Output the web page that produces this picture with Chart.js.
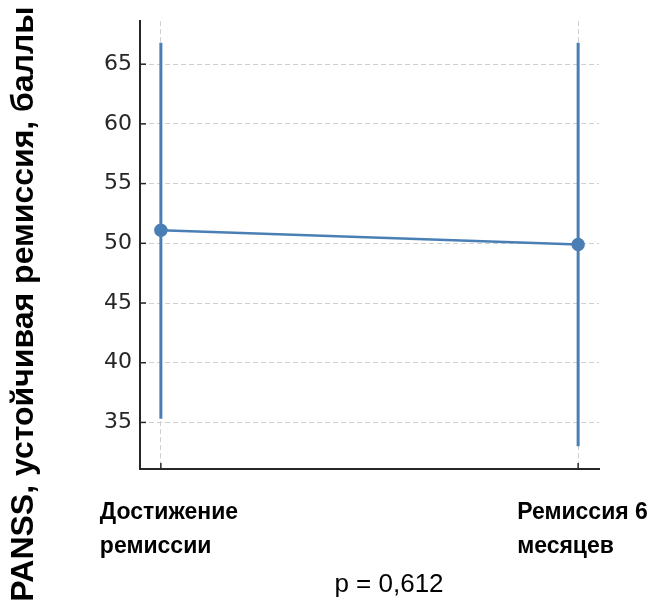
<!DOCTYPE html>
<html>
<head>
<meta charset="utf-8">
<script src="https://cdn.jsdelivr.net/npm/chart.js@4"></script>
<style>
  html, body { margin: 0; padding: 0; background: #fff; }
  #wrap { width: 654px; height: 602px; }
</style>
</head>
<body>
<div id="wrap"><canvas id="panss-chart" width="654" height="602"></canvas></div>
<script>
const categories = [['Достижение', 'ремиссии'], ['Ремиссия 6', 'месяцев']];
const means = [51.1, 49.9];
const lowerBars = [35.3, 33.0];
const upperBars = [66.8, 66.8];
const yTicks = [35, 40, 45, 50, 55, 60, 65];
const yTitle = 'PANSS, устойчивая ремиссия, баллы';
const pText = 'p = 0,612';

const lineColor = '#4a7fb5';
const axisColor = '#262626';

// error bars, inner ticks, category labels and titles, all placed through the scales
const extras = {
    id: 'extras',
    beforeDatasetsDraw(chart) {
        const ctx = chart.ctx;
        const x = chart.scales.x, y = chart.scales.y;
        const area = chart.chartArea;
        ctx.save();
        // small inward tick marks
        ctx.strokeStyle = axisColor;
        ctx.lineWidth = 1.5;
        yTicks.forEach(v => {
            const py = y.getPixelForValue(v);
            ctx.beginPath();
            ctx.moveTo(area.left, py);
            ctx.lineTo(area.left + 6, py);
            ctx.stroke();
        });
        categories.forEach((c, i) => {
            const px = x.getPixelForValue(i);
            ctx.beginPath();
            ctx.moveTo(px, area.bottom);
            ctx.lineTo(px, area.bottom - 6);
            ctx.stroke();
        });
        // error bars
        ctx.strokeStyle = lineColor;
        ctx.lineWidth = 3;
        means.forEach((m, i) => {
            const px = x.getPixelForValue(i);
            ctx.beginPath();
            ctx.moveTo(px, y.getPixelForValue(lowerBars[i]));
            ctx.lineTo(px, y.getPixelForValue(upperBars[i]));
            ctx.stroke();
        });
        ctx.restore();
    },
    afterDraw(chart) {
        const ctx = chart.ctx;
        const x = chart.scales.x;
        const area = chart.chartArea;
        ctx.save();
        ctx.fillStyle = '#000';
        ctx.font = 'bold 23px "Liberation Sans", Arial, sans-serif';
        ctx.textAlign = 'left';
        ctx.textBaseline = 'middle';
        categories.forEach((lines, i) => {
            const px = x.getPixelForValue(i) - 61;
            lines.forEach((t, j) => {
                ctx.fillText(t, px, area.bottom + 44 + j * 34);
            });
        });
        ctx.font = '26px "Liberation Sans", Arial, sans-serif';
        ctx.textAlign = 'center';
        ctx.fillText(pText, 389, 585);
        ctx.translate(24, 304);
        ctx.rotate(-Math.PI / 2);
        ctx.font = 'bold 32px "Liberation Sans", Arial, sans-serif';
        ctx.fillText(yTitle, 0, 0);
        ctx.restore();
    }
};

new Chart(document.getElementById('panss-chart'), {
    type: 'line',
    data: {
        datasets: [{
            data: means.map((v, i) => ({ x: i, y: v })),
            borderColor: lineColor,
            backgroundColor: lineColor,
            pointBackgroundColor: lineColor,
            pointBorderColor: lineColor,
            borderWidth: 2.5,
            pointRadius: 5.5,
            tension: 0
        }]
    },
    options: {
        responsive: false,
        animation: false,
        layout: {
            padding: { left: 0, top: 18, right: 55, bottom: 133 }
        },
        plugins: {
            legend: { display: false },
            tooltip: { enabled: false }
        },
        scales: {
            x: {
                type: 'linear',
                min: -0.05,
                max: 1.05,
                afterBuildTicks: s => { s.ticks = categories.map((c, i) => ({ value: i })); },
                afterFit: s => { s.height = 0; },
                ticks: { display: false },
                grid: {
                    color: '#cfcfcf',
                    lineWidth: 1,
                    drawTicks: false
                },
                border: { display: true, color: axisColor, width: 2, dash: [5, 3] }
            },
            y: {
                min: 31.1,
                max: 68.6,
                afterBuildTicks: s => { s.ticks = yTicks.map(v => ({ value: v })); },
                afterFit: s => { s.width = 140; },
                ticks: {
                    color: axisColor,
                    padding: 8,
                    font: { family: '"DejaVu Sans"', size: 22 }
                },
                grid: {
                    color: '#cfcfcf',
                    lineWidth: 1,
                    drawTicks: false
                },
                border: { display: true, color: axisColor, width: 2, dash: [5, 3] }
            }
        }
    },
    plugins: [extras]
});
</script>
</body>
</html>
